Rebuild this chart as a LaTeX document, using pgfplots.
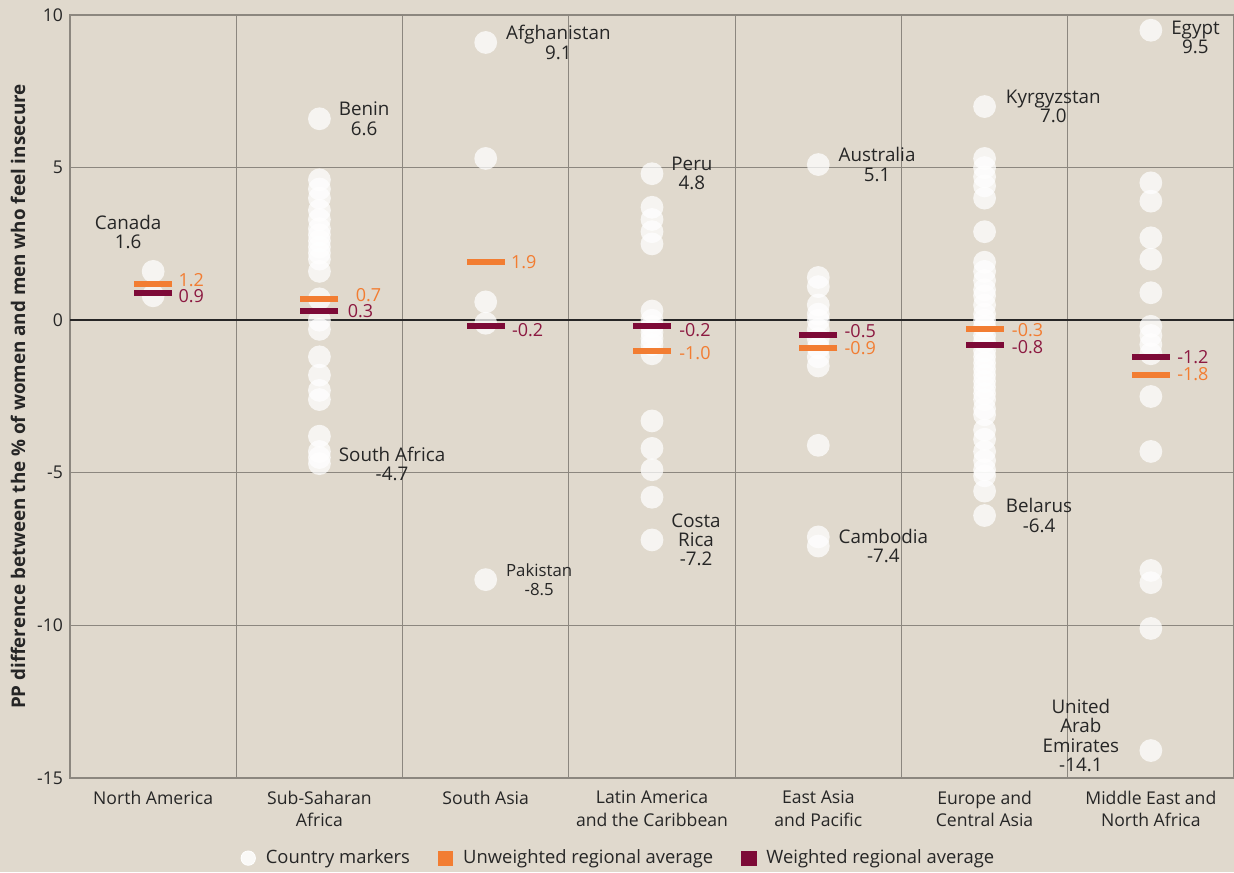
\documentclass[border=0pt]{standalone}
\usepackage{fontspec}
\setmainfont{Open Sans}
\usepackage{pgfplots}
\usepackage{pgfplotstable}
\pgfplotsset{compat=1.18}
\definecolor{bg}{RGB}{224,217,205}
\definecolor{gridc}{RGB}{140,135,127}
\definecolor{orng}{RGB}{242,125,50}
\definecolor{maroon}{RGB}{125,10,55}
\definecolor{maroontxt}{RGB}{140,25,65}
\definecolor{txt}{RGB}{38,38,38}
\pgfplotstableread{
x y
0 1.6
0 0.8
1 6.6
1 4.6
1 4.3
1 4.0
1 3.6
1 3.3
1 3.0
1 2.8
1 2.6
1 2.4
1 2.2
1 2.0
1 1.6
1 0.7
1 0.0
1 -0.3
1 -1.2
1 -1.8
1 -2.3
1 -2.6
1 -3.8
1 -4.3
1 -4.5
1 -4.7
2 9.1
2 5.3
2 0.6
2 -0.1
2 -8.5
3 4.8
3 3.7
3 3.3
3 2.9
3 2.5
3 0.3
3 0.0
3 -0.2
3 -0.4
3 -0.6
3 -0.8
3 -1.1
3 -3.3
3 -4.2
3 -4.9
3 -5.8
3 -7.2
4 5.1
4 1.4
4 1.1
4 0.5
4 0.2
4 0.0
4 -0.3
4 -0.6
4 -0.9
4 -1.2
4 -1.5
4 -4.1
4 -7.1
4 -7.4
5 7.0
5 5.3
5 5.0
5 4.7
5 4.4
5 4.0
5 2.9
5 1.9
5 1.6
5 1.3
5 1.0
5 0.8
5 0.5
5 0.2
5 0.0
5 -0.2
5 -0.5
5 -0.7
5 -1.0
5 -1.2
5 -1.4
5 -1.6
5 -1.8
5 -2.0
5 -2.2
5 -2.4
5 -2.6
5 -2.9
5 -3.1
5 -3.6
5 -3.9
5 -4.3
5 -4.6
5 -4.9
5 -5.1
5 -5.6
5 -6.4
6 9.5
6 4.5
6 3.9
6 2.7
6 2.0
6 0.9
6 -0.2
6 -0.5
6 -0.8
6 -1.1
6 -2.5
6 -4.3
6 -8.2
6 -8.6
6 -10.1
6 -14.1
}\countries
\pgfplotstableread{
x y
0 1.2
1 0.7
2 1.9
3 -1.0
4 -0.9
5 -0.3
6 -1.8
}\unweighted
\pgfplotstableread{
x y
0 0.9
1 0.3
2 -0.2
3 -0.2
4 -0.5
5 -0.8
6 -1.2
}\weighted
\begin{document}
\begin{tikzpicture}[font=\fontsize{9.4}{9.6}\selectfont, text=txt]
\fill[bg] (-35pt,-47pt) rectangle (582pt,389pt);
\begin{axis}[
  at={(0pt,0pt)}, anchor=south west,
  scale only axis, width=582pt, height=381.5pt,
  xmin=-0.5, xmax=6.5, ymin=-15, ymax=10,
  axis line style={gridc, line width=0.6pt},
  xtick={0,1,2,3,4,5,6},
  xticklabels={North America, {Sub-Saharan\\Africa}, South Asia, {Latin America\\and the Caribbean}, {East Asia\\and Pacific}, {Europe and\\Central Asia}, {Middle East and\\North Africa}},
  xticklabel style={align=center, font=\fontsize{8.8}{11.2}\selectfont, text=txt, yshift=-3pt},
  minor xtick={0.5,1.5,...,5.5},
  xminorgrids,
  ytick={-15,-10,-5,0,5,10},
  ymajorgrids,
  major tick length=0pt, minor tick length=0pt,
  grid style={gridc, line width=0.6pt},
  minor grid style={gridc, line width=0.6pt},
  extra y ticks={0},
  extra y tick labels={},
  extra y tick style={grid style={black!85, line width=1pt}},
  /pgf/number format/assume math mode=true,
  yticklabel style={font=\fontsize{8.8}{10}\selectfont, text=txt},
  ylabel={PP difference between the \% of women and men who feel insecure},
  ylabel style={font=\fontsize{9.4}{10}\selectfont\bfseries, text=txt, at={(axis description cs:-0.0447,0.5)}, anchor=center},
  clip=false,
  legend style={at={(0.472,-0.105)}, anchor=center, legend columns=3, draw=none, fill=none,
    font=\fontsize{9.2}{10}\selectfont, text=txt,
    /tikz/every odd column/.append style={column sep=3pt},
    /tikz/every even column/.append style={column sep=12pt}},
  legend cell align=left,
]
\addplot[only marks, mark=*, mark size=5.7pt, mark options={draw=white, draw opacity=0, fill=white, fill opacity=0.72},
  legend image code/.code={\fill[white, fill opacity=0.85] (3pt,0pt) circle (3.6pt);}]
  table[x=x, y=y] {\countries};
\addlegendentry{Country markers}
\addplot[only marks, mark=-, mark size=9.5pt, mark options={draw=orng, line width=3pt},
  legend image code/.code={\fill[orng] (0pt,-3.6pt) rectangle (7.2pt,3.6pt);}]
  table[x=x, y=y] {\unweighted};
\addlegendentry{Unweighted regional average}
\addplot[only marks, mark=-, mark size=9.5pt, mark options={draw=maroon, line width=3pt},
  legend image code/.code={\fill[maroon] (0pt,-3.6pt) rectangle (7.2pt,3.6pt);}]
  table[x=x, y=y] {\weighted};
\addlegendentry{Weighted regional average}

% average labels
\begin{scope}[every node/.style={anchor=west, inner sep=0pt, font=\fontsize{9}{10}\selectfont}]
\node[text=orng, xshift=12.5pt, yshift=1.5pt] at (axis cs:0,1.2) {1.2};
\node[text=maroontxt, xshift=12.5pt, yshift=-1.5pt] at (axis cs:0,0.9) {0.9};
\node[text=orng, xshift=18pt, yshift=2pt] at (axis cs:1,0.7) {0.7};
\node[text=maroontxt, xshift=14pt, yshift=0pt] at (axis cs:1,0.3) {0.3};
\node[text=orng, xshift=12.5pt] at (axis cs:2,1.9) {1.9};
\node[text=maroontxt, xshift=13pt, yshift=-2pt] at (axis cs:2,-0.2) {-0.2};
\node[text=maroontxt, xshift=13.5pt, yshift=-2pt] at (axis cs:3,-0.2) {-0.2};
\node[text=orng, xshift=13.5pt, yshift=-1pt] at (axis cs:3,-1.0) {-1.0};
\node[text=maroontxt, xshift=13pt, yshift=2pt] at (axis cs:4,-0.5) {-0.5};
\node[text=orng, xshift=13pt, yshift=0pt] at (axis cs:4,-0.9) {-0.9};
\node[text=orng, xshift=13.5pt, yshift=-0.5pt] at (axis cs:5,-0.3) {-0.3};
\node[text=maroontxt, xshift=13.5pt, yshift=-1pt] at (axis cs:5,-0.8) {-0.8};
\node[text=maroontxt, xshift=13pt, yshift=0pt] at (axis cs:6,-1.2) {-1.2};
\node[text=orng, xshift=13pt, yshift=0.5pt] at (axis cs:6,-1.8) {-1.8};
\end{scope}

% country labels
\begin{scope}[every node/.style={align=center, inner sep=0pt, text=txt}]
\node[anchor=center, xshift=-12.5pt, yshift=19.5pt] at (axis cs:0,1.6) {Canada\\1.6};
\node[anchor=west, xshift=9.5pt] at (axis cs:1,6.6) {Benin\\6.6};
\node[anchor=west, xshift=9.5pt] at (axis cs:1,-4.7) {South Africa\\-4.7};
\node[anchor=west, xshift=10pt] at (axis cs:2,9.1) {Afghanistan\\9.1};
\node[anchor=west, xshift=10pt, font=\fontsize{8.4}{9.6}\selectfont] at (axis cs:2,-8.5) {Pakistan\\-8.5};
\node[anchor=west, xshift=9.5pt] at (axis cs:3,4.8) {Peru\\4.8};
\node[anchor=west, xshift=9.5pt] at (axis cs:3,-7.2) {Costa\\Rica\\-7.2};
\node[anchor=west, xshift=10pt] at (axis cs:4,5.1) {Australia\\5.1};
\node[anchor=west, xshift=10pt] at (axis cs:4,-7.4) {Cambodia\\-7.4};
\node[anchor=west, xshift=10.5pt] at (axis cs:5,7.0) {Kyrgyzstan\\7.0};
\node[anchor=west, xshift=10.5pt] at (axis cs:5,-6.4) {Belarus\\-6.4};
\node[anchor=west, xshift=10pt, yshift=-3.5pt] at (axis cs:6,9.5) {Egypt\\9.5};
\node[anchor=center, xshift=-35pt, yshift=7.5pt] at (axis cs:6,-14.1) {United\\Arab\\Emirates\\-14.1};
\end{scope}
\end{axis}
\pgfresetboundingbox
\path (-35pt,-47pt) rectangle (582pt,389pt);
\end{tikzpicture}
\end{document}
